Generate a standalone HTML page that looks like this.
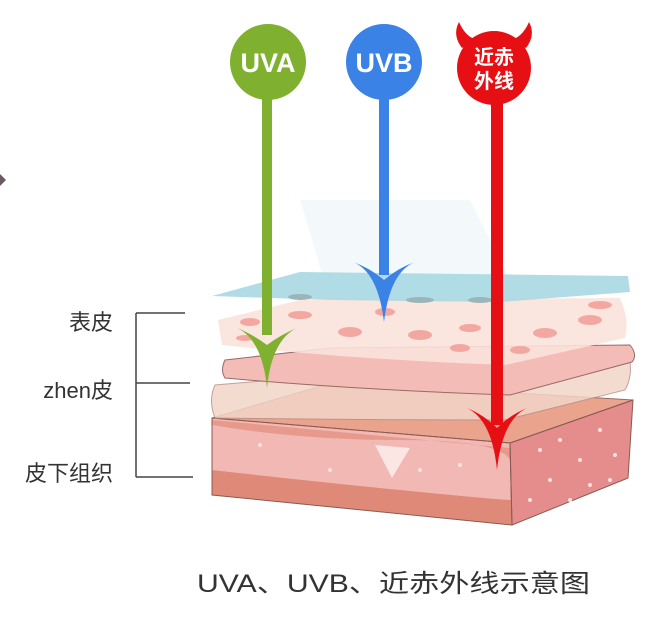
<!DOCTYPE html>
<html><head><meta charset="utf-8"><style>
html,body{margin:0;padding:0;background:#fff}
svg{display:block}
text{font-family:"Liberation Sans","Noto Sans CJK SC",sans-serif}
</style></head><body>
<svg width="650" height="622" viewBox="0 0 650 622" xmlns="http://www.w3.org/2000/svg">
<rect width="650" height="622" fill="#fff"/>
<!-- faint beam -->
<polygon points="300,200 470,200 520,300 330,300" fill="#eef6f8" opacity="0.7"/>
<!-- left chevron -->
<polygon points="0,174 6,180 0,186" fill="#6a5a66"/>

<!-- block (subcutaneous) -->
<polygon points="212,418 510,443 633,400 335,382" fill="#eaa48e"/>
<polygon points="212,418 510,443 512,525 212,495" fill="#f2b8b4"/>
<path d="M212,470 Q300,480 400,490 T512,500 L512,525 L212,495 Z" fill="#df8a78"/>
<path d="M212,425 Q300,440 400,440 T510,460 L510,448 L212,420 Z" fill="#e79a8c"/>
<polygon points="510,443 633,400 628,478 512,525" fill="#e58d8c"/>
<polygon points="212,418 510,443 633,400 335,382" fill="none" stroke="#9a6a62" stroke-width="1"/>
<polygon points="212,418 510,443 512,525 212,495" fill="none" stroke="#8a5a52" stroke-width="1"/>
<polygon points="510,443 633,400 628,478 512,525" fill="none" stroke="#8a5a52" stroke-width="1"/>
<g fill="#fbe0e0">
<circle cx="540" cy="450" r="2"/><circle cx="560" cy="440" r="2"/><circle cx="580" cy="460" r="2"/><circle cx="600" cy="430" r="2"/><circle cx="615" cy="455" r="2"/><circle cx="550" cy="480" r="2"/><circle cx="590" cy="485" r="2"/><circle cx="570" cy="500" r="2"/><circle cx="610" cy="480" r="2"/><circle cx="530" cy="500" r="2"/>
<circle cx="260" cy="445" r="2"/><circle cx="330" cy="470" r="2"/><circle cx="420" cy="470" r="2"/><circle cx="460" cy="465" r="2"/>
</g>
<polygon points="375,445 410,448 392,478" fill="#fdf1ef" opacity="0.8"/>

<!-- beige dermis layer -->
<path d="M215,385 Q360,372 520,368 L630,362 Q632,378 625,390 L505,420 Q360,420 215,418 Q208,400 215,385 Z" fill="#f3d5c8" opacity="0.85" stroke="#b89088" stroke-width="1"/>
<!-- pink layer -->
<path d="M225,360 L330,348 L630,345 Q638,355 632,362 L510,395 Q360,390 225,378 Q220,370 225,360 Z" fill="#f4bcb6" stroke="#9a6a66" stroke-width="1"/>
<!-- cell layer -->
<path d="M218,320 L300,300 L620,298 Q630,320 625,338 L505,365 Q360,360 222,345 Z" fill="#fbe2dc" opacity="0.9"/>
<g fill="#f2a8a0">
<ellipse cx="250" cy="322" rx="10" ry="4"/><ellipse cx="300" cy="315" rx="12" ry="4"/><ellipse cx="350" cy="332" rx="12" ry="5"/><ellipse cx="420" cy="335" rx="12" ry="5"/><ellipse cx="470" cy="328" rx="11" ry="4"/><ellipse cx="545" cy="333" rx="12" ry="5"/><ellipse cx="590" cy="320" rx="12" ry="5"/><ellipse cx="600" cy="305" rx="12" ry="4"/><ellipse cx="385" cy="312" rx="10" ry="4"/><ellipse cx="460" cy="348" rx="10" ry="4"/><ellipse cx="520" cy="350" rx="10" ry="4"/><ellipse cx="245" cy="338" rx="9" ry="3"/>
</g>
<!-- blue top plate -->
<polygon points="212,296 300,272 628,276 630,292 500,302 330,300" fill="#a8d8e2" opacity="0.9"/>
<g fill="#9ab6bb"><ellipse cx="300" cy="297" rx="12" ry="3"/><ellipse cx="420" cy="300" rx="14" ry="3"/><ellipse cx="480" cy="300" rx="12" ry="3"/></g>

<!-- arrows -->
<g fill="#80b030">
<rect x="262" y="95" width="10" height="240"/>
<path d="M235,327 Q262,338 267,388 Q272,338 299,327 Q280,335 267,345 Q254,335 235,327 Z"/>
<circle cx="268" cy="62" r="38"/>
</g>
<g fill="#3b82e6">
<rect x="379" y="95" width="10" height="180"/>
<path d="M353,262 Q378,272 384,322 Q390,272 415,262 Q398,268 384,280 Q370,268 353,262 Z"/>
<circle cx="384" cy="62" r="38"/>
</g>
<g fill="#e60f14">
<rect x="491" y="95" width="12" height="330"/>
<path d="M467,408 Q492,420 497,470 Q502,420 527,408 Q510,415 497,428 Q484,415 467,408 Z"/>
<circle cx="494" cy="68" r="37"/>
<path d="M462,48 Q452,35 459,22 Q466,38 478,40 Z"/>
<path d="M526,48 Q536,35 529,22 Q522,38 510,40 Z"/>
</g>
<text x="268" y="72" font-size="27" font-weight="bold" fill="#fff" text-anchor="middle">UVA</text>
<text x="384" y="72" font-size="27" font-weight="bold" fill="#fff" text-anchor="middle">UVB</text>
<text x="494" y="64" font-size="20" font-weight="bold" fill="#fff" text-anchor="middle">近赤</text>
<text x="494" y="88" font-size="20" font-weight="bold" fill="#fff" text-anchor="middle">外线</text>

<!-- bracket -->
<g stroke="#444" stroke-width="1.5" fill="none">
<path d="M136,313 V477"/><path d="M136,313 H185"/><path d="M136,383 H190"/><path d="M136,477 H193"/>
</g>
<g font-size="22" fill="#333" text-anchor="end">
<text x="113" y="330">表皮</text>
<text x="113" y="398">zhen皮</text>
<text x="113" y="481">皮下组织</text>
</g>
<text x="197" y="592" font-size="25" fill="#333" textLength="393" lengthAdjust="spacingAndGlyphs">UVA、UVB、近赤外线示意图</text>
</svg>
</body></html>
